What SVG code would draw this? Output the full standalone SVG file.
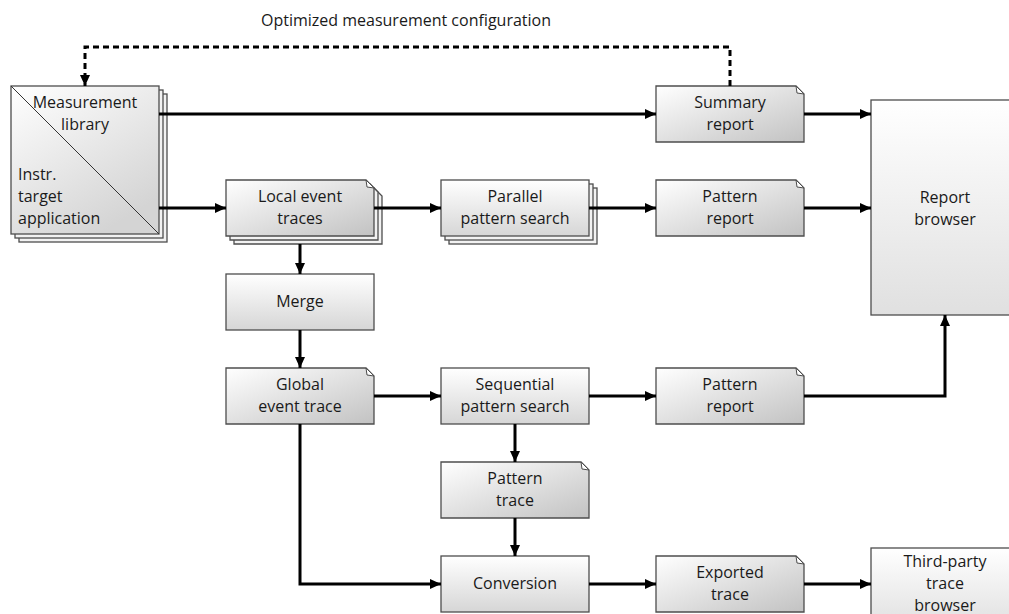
<svg xmlns="http://www.w3.org/2000/svg" width="1009" height="614" viewBox="0 0 1009 614">
<defs>
<linearGradient id="docGrad" x1="0" y1="0" x2="1" y2="1">
<stop offset="0" stop-color="#ffffff"/><stop offset="1" stop-color="#c2c2c2"/>
</linearGradient>
<linearGradient id="procGrad" x1="0" y1="0" x2="0" y2="1">
<stop offset="0" stop-color="#ffffff"/><stop offset="1" stop-color="#d6d6d6"/>
</linearGradient>
<linearGradient id="brGrad" x1="0" y1="0" x2="0" y2="1">
<stop offset="0" stop-color="#ffffff"/><stop offset="1" stop-color="#e0e0e0"/>
</linearGradient>
<linearGradient id="libGrad" x1="0" y1="0" x2="0.6" y2="1">
<stop offset="0" stop-color="#ffffff"/><stop offset="1" stop-color="#d4d4d4"/>
</linearGradient>
<marker id="arr" markerUnits="userSpaceOnUse" markerWidth="12" markerHeight="10" refX="11" refY="5" orient="auto">
<path d="M0,0 L11,5 L0,10 Z" fill="#000"/>
</marker>
</defs>
<style>
.box{stroke:#4d4d4d;stroke-width:1.3}
.doc{fill:url(#docGrad)}
.proc{fill:url(#procGrad)}
.br{fill:url(#brGrad)}
.shadow{fill:#f2f2f2;stroke:#4d4d4d;stroke-width:1.3}
.fold{fill:#ffffff;stroke:#4d4d4d;stroke-width:1}
text{font-family:"Open Sans","DejaVu Sans",sans-serif;font-size:16px;fill:#1a1a1a}
.c{text-anchor:middle}
.conn{fill:none;stroke:#000;stroke-width:3}
.dash{stroke-dasharray:6 4}
</style>

<text class="c" x="406" y="26">Optimized measurement configuration</text>

<g id="lib">
<rect class="shadow" x="19" y="94" width="148" height="148"/>
<rect class="shadow" x="15" y="90" width="148" height="148"/>
<rect class="box" x="11" y="86" width="148" height="148" fill="url(#libGrad)"/>
<line x1="11" y1="86" x2="159" y2="234" stroke="#333" stroke-width="1"/>
<text class="c" x="85" y="108">Measurement</text>
<text class="c" x="85" y="130">library</text>
<text x="18" y="180">Instr.</text>
<text x="18" y="202">target</text>
<text x="18" y="224">application</text>
</g>

<g id="localTraces">
<path class="shadow" d="M234,188 H374 L382,196 V244 H234 Z"/>
<path class="shadow" d="M230,184 H370 L378,192 V240 H230 Z"/>
<path class="box doc" d="M226,180 H366 L374,188 V236 H226 Z"/>
<path class="fold" d="M366,180 L367,187 L374,188 Z"/>
<text class="c" x="300" y="202">Local event</text>
<text class="c" x="300" y="224">traces</text>
</g>

<g id="parallel">
<rect class="shadow" x="449" y="188" width="148" height="56"/>
<rect class="shadow" x="445" y="184" width="148" height="56"/>
<rect class="box proc" x="441" y="180" width="148" height="56"/>
<text class="c" x="515" y="202">Parallel</text>
<text class="c" x="515" y="224">pattern search</text>
</g>

<g id="summary">
<path class="box doc" d="M656,86 H796 L804,94 V142 H656 Z"/>
<path class="fold" d="M796,86 L797,93 L804,94 Z"/>
<text class="c" x="730" y="108">Summary</text>
<text class="c" x="730" y="130">report</text>
</g>

<g id="patternReport1">
<path class="box doc" d="M656,180 H796 L804,188 V236 H656 Z"/>
<path class="fold" d="M796,180 L797,187 L804,188 Z"/>
<text class="c" x="730" y="202">Pattern</text>
<text class="c" x="730" y="224">report</text>
</g>

<g id="reportBrowser">
<rect class="box br" x="871" y="100" width="148" height="215"/>
<text class="c" x="945" y="203">Report</text>
<text class="c" x="945" y="225">browser</text>
</g>

<g id="merge">
<rect class="box proc" x="226" y="274" width="148" height="56"/>
<text class="c" x="300" y="307">Merge</text>
</g>

<g id="globalTrace">
<path class="box doc" d="M226,368 H366 L374,376 V424 H226 Z"/>
<path class="fold" d="M366,368 L367,375 L374,376 Z"/>
<text class="c" x="300" y="390">Global</text>
<text class="c" x="300" y="412">event trace</text>
</g>

<g id="sequential">
<rect class="box proc" x="441" y="368" width="148" height="56"/>
<text class="c" x="515" y="390">Sequential</text>
<text class="c" x="515" y="412">pattern search</text>
</g>

<g id="patternReport2">
<path class="box doc" d="M656,368 H796 L804,376 V424 H656 Z"/>
<path class="fold" d="M796,368 L797,375 L804,376 Z"/>
<text class="c" x="730" y="390">Pattern</text>
<text class="c" x="730" y="412">report</text>
</g>

<g id="patternTrace">
<path class="box doc" d="M441,462 H581 L589,470 V518 H441 Z"/>
<path class="fold" d="M581,462 L582,469 L589,470 Z"/>
<text class="c" x="515" y="484">Pattern</text>
<text class="c" x="515" y="506">trace</text>
</g>

<g id="conversion">
<rect class="box proc" x="441" y="556" width="148" height="56"/>
<text class="c" x="515" y="589">Conversion</text>
</g>

<g id="exported">
<path class="box doc" d="M656,556 H796 L804,564 V612 H656 Z"/>
<path class="fold" d="M796,556 L797,563 L804,564 Z"/>
<text class="c" x="730" y="578">Exported</text>
<text class="c" x="730" y="600">trace</text>
</g>

<g id="thirdParty">
<rect class="box br" x="871" y="548" width="148" height="80"/>
<text class="c" x="945" y="567">Third-party</text>
<text class="c" x="945" y="589">trace</text>
<text class="c" x="945" y="611">browser</text>
</g>

<g id="connectors">
<path class="conn dash" d="M730,86 V47 H85 V86" marker-end="url(#arr)"/>
<path class="conn" d="M159,114 H656" marker-end="url(#arr)"/>
<path class="conn" d="M804,114 H871" marker-end="url(#arr)"/>
<path class="conn" d="M159,208 H226" marker-end="url(#arr)"/>
<path class="conn" d="M374,208 H441" marker-end="url(#arr)"/>
<path class="conn" d="M589,208 H656" marker-end="url(#arr)"/>
<path class="conn" d="M804,208 H871" marker-end="url(#arr)"/>
<path class="conn" d="M300,244 V274" marker-end="url(#arr)"/>
<path class="conn" d="M300,330 V368" marker-end="url(#arr)"/>
<path class="conn" d="M374,396 H441" marker-end="url(#arr)"/>
<path class="conn" d="M589,396 H656" marker-end="url(#arr)"/>
<path class="conn" d="M804,396 H945 V315" marker-end="url(#arr)"/>
<path class="conn" d="M515,424 V462" marker-end="url(#arr)"/>
<path class="conn" d="M515,518 V556" marker-end="url(#arr)"/>
<path class="conn" d="M300,424 V584 H441" marker-end="url(#arr)"/>
<path class="conn" d="M589,584 H656" marker-end="url(#arr)"/>
<path class="conn" d="M804,584 H871" marker-end="url(#arr)"/>
</g>
</svg>
